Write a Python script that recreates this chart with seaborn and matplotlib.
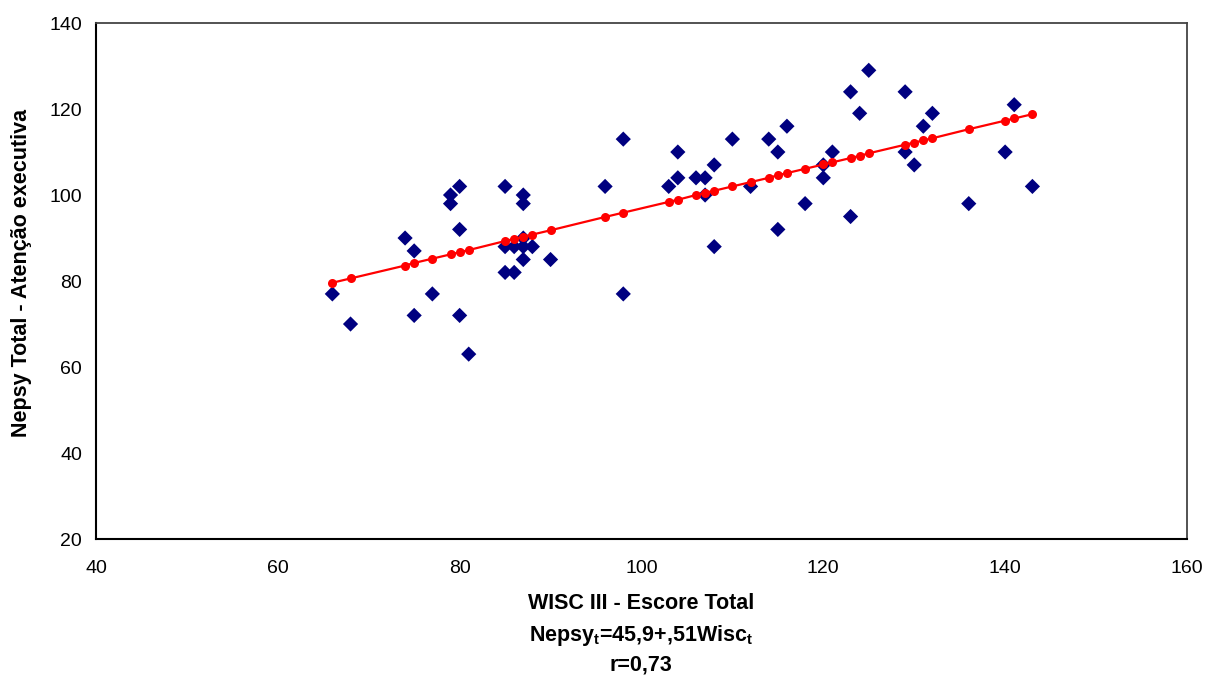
import matplotlib
matplotlib.use("Agg")
import matplotlib.pyplot as plt
import seaborn as sns
import pandas as pd

# Observed scores (blue diamonds)
wisc = [66, 68, 74, 75, 75, 77, 79, 79, 80, 80, 80, 81, 85, 85, 85, 86, 86,
        87, 87, 87, 87, 87, 88, 90, 96, 98, 98, 103, 104, 104, 106, 107, 107,
        108, 108, 110, 112, 114, 115, 115, 116, 118, 120, 120, 121, 123, 123,
        124, 125, 129, 129, 130, 131, 132, 136, 140, 141, 143]
nepsy = [77, 70, 90, 87, 72, 77, 100, 98, 102, 92, 72, 63, 102, 88, 82, 88, 82,
         100, 98, 90, 88, 85, 88, 85, 102, 113, 77, 102, 110, 104, 104, 104, 100,
         107, 88, 113, 102, 113, 110, 92, 116, 98, 107, 104, 110, 124, 95,
         119, 129, 124, 110, 107, 116, 119, 98, 110, 121, 102]

# Fitted values (red line)
fit_x = [66, 68, 74, 75, 77, 79, 80, 81, 85, 86, 87, 88, 90, 96, 98, 103, 104,
         106, 107, 108, 110, 112, 114, 115, 116, 118, 120, 121, 123, 124, 125,
         129, 130, 131, 132, 136, 140, 141, 143]
fit_y = [79.6, 80.6, 83.6, 84.2, 85.2, 86.2, 86.7, 87.2, 89.3, 89.8, 90.3, 90.8,
         91.8, 94.9, 95.9, 98.4, 98.9, 100.0, 100.5, 101.0, 102.0, 103.0, 104.0,
         104.6, 105.1, 106.1, 107.1, 107.6, 108.6, 109.1, 109.7, 111.7, 112.2,
         112.7, 113.2, 115.3, 117.3, 117.8, 118.8]

x_ticks = [40, 60, 80, 100, 120, 140, 160]
y_ticks = [20, 40, 60, 80, 100, 120, 140]

sns.set_style("white")
plt.rcParams['font.family'] = ['Liberation Sans', 'DejaVu Sans']
plt.rcParams['mathtext.default'] = 'regular'
plt.rcParams['text.color'] = 'black'

obs = pd.DataFrame({"wisc": wisc, "nepsy": nepsy})
fit = pd.DataFrame({"wisc": fit_x, "nepsy": fit_y})

fig = plt.figure(figsize=(12.07, 6.77), dpi=100)
ax = fig.add_axes([0.0795, 0.2038, 0.9039, 0.7622])

sns.scatterplot(data=obs, x="wisc", y="nepsy", marker="D", s=60,
                color="#000080", edgecolor="none", ax=ax, zorder=2)
sns.lineplot(data=fit, x="wisc", y="nepsy", color="#ff0000", linewidth=1.6,
             marker="o", markersize=6.5, markeredgecolor="none", ax=ax, zorder=3)

ax.set_xlim(40, 160)
ax.set_ylim(20, 140)
ax.set_xticks(x_ticks)
ax.set_yticks(y_ticks)
ax.tick_params(axis="both", direction="out", length=5, width=1, color="black",
               labelsize=14, labelcolor="black")
ax.tick_params(axis="x", pad=10)
ax.tick_params(axis="y", pad=5)
ax.set_xlabel("")
ax.set_ylabel("")
for side in ["left", "bottom"]:
    ax.spines[side].set_color("black")
    ax.spines[side].set_linewidth(1.5)
for side in ["top", "right"]:
    ax.spines[side].set_color("#444444")
    ax.spines[side].set_linewidth(1.3)

fig.text(0.018, 0.597, "Nepsy Total - Atenção executiva", rotation=90,
         ha="center", va="center", fontsize=15.5, fontweight="bold")
fig.text(0.531, 0.108, "WISC III - Escore Total", ha="center", va="center",
         fontsize=15.5, fontweight="bold")
fig.text(0.531, 0.061, "Nepsy$_t$=45,9+,51Wisc$_t$", ha="center", va="center",
         fontsize=15.5, fontweight="bold")
fig.text(0.531, 0.018, "r=0,73", ha="center", va="center",
         fontsize=15.5, fontweight="bold")

fig.savefig("out.png", dpi=100)
